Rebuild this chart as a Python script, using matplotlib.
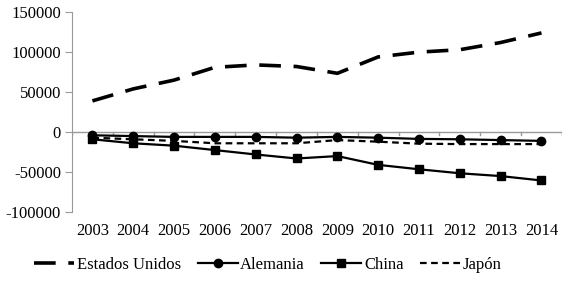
import matplotlib.pyplot as plt
import numpy as np
from matplotlib.font_manager import FontProperties

years = ['2003', '2004', '2005', '2006', '2007', '2008', '2009', '2010', '2011', '2012', '2013', '2014']
estados_unidos = [39000, 54000, 65000, 81000, 84000, 82000, 73500, 94000, 100000, 103000, 112000, 124000]
alemania = [-4000, -5000, -6000, -6000, -6000, -7000, -6000, -7000, -8500, -9000, -10000, -11000]
china = [-9000, -14000, -17000, -22500, -28000, -33000, -30000, -41000, -46500, -51500, -55000, -60500]
japon = [-7000, -9000, -11000, -14000, -14000, -14000, -10000, -12000, -14500, -15000, -15000, -15000]

plt.rcParams['font.family'] = 'Liberation Serif'
plt.rcParams['font.size'] = 12
font = FontProperties(family='Liberation Serif', size=12)

fig = plt.figure(figsize=(5.67, 2.82), dpi=100)
ax = fig.add_axes([0.127, 0.248, 0.864, 0.709])
x = np.arange(len(years))

ax.plot(x, estados_unidos, color='black', lw=2.6, dashes=(6, 3.5), label='Estados Unidos')
ax.plot(x, alemania, color='black', lw=1.6, marker='o', ms=6, label='Alemania')
ax.plot(x, china, color='black', lw=1.6, marker='s', ms=5.5, label='China')
ax.plot(x, japon, color='black', lw=1.6, dashes=(3, 2), label='Japón')

ax.set_xlim(-0.5, len(years) - 0.5)
ax.set_ylim(-100000, 150000)
ax.set_yticks(np.arange(-100000, 150001, 50000))
ax.set_yticklabels([str(v) for v in range(-100000, 150001, 50000)], fontproperties=font)

for s in ['top', 'right', 'bottom']:
    ax.spines[s].set_visible(False)
ax.spines['left'].set_color('#999999')
ax.tick_params(axis='y', color='#999999', length=5, pad=3)

# zero line with category ticks, labels placed below the plot
ax.axhline(0, color='#999999', lw=1, zorder=0)
for b in np.arange(-0.5, len(years), 1.0):
    ax.plot([b, b], [0, -4000], color='#999999', lw=1, zorder=0)
ax.set_xticks(x)
ax.set_xticklabels(years, fontproperties=font)
ax.tick_params(axis='x', length=0, pad=8)

ax.legend(loc='center', bbox_to_anchor=(0.40, -0.265), ncol=4, frameon=False,
          handlelength=2.4, columnspacing=1.0, handletextpad=0.15, prop=font)

fig.savefig('out.png', dpi=100)
